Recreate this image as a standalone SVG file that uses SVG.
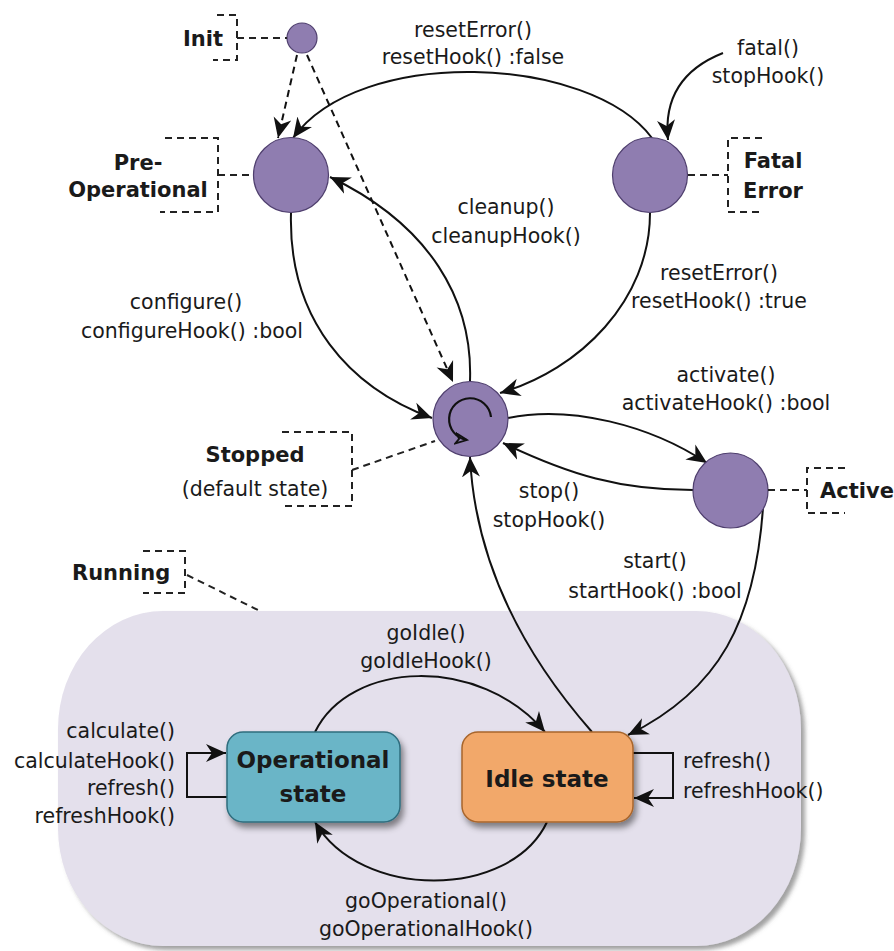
<svg xmlns="http://www.w3.org/2000/svg" width="894" height="951" viewBox="0 0 894 951">
  <defs>
    <style>
      .lbl { font-family: "DejaVu Sans", "Liberation Sans", sans-serif; font-size: 20.5px; fill: #1a1a1a; }
      .bold { font-family: "DejaVu Sans", "Liberation Sans", sans-serif; font-size: 21px; font-weight: bold; fill: #1a1a1a; }
      .boxt { font-family: "DejaVu Sans", "Liberation Sans", sans-serif; font-size: 23px; font-weight: bold; fill: #1a1a1a; }
      .mid { text-anchor: middle; }
      .end { text-anchor: end; }
      .state { fill: #8f7db0; stroke: #4f3f6e; stroke-width: 1.2; }
      .edge { fill: none; stroke: #111; stroke-width: 2; marker-end: url(#arrow); }
      .dashed { stroke-dasharray: 7 5; }
      .note { fill: none; stroke: #222; stroke-width: 2; stroke-dasharray: 7 5; }
    </style>
    <marker id="arrow" markerUnits="userSpaceOnUse" markerWidth="24" markerHeight="22" refX="20" refY="10" orient="auto">
      <path d="M0,1 L20,10 L0,19 L6,10 z" fill="#111"/>
    </marker>
    <marker id="chev" markerUnits="userSpaceOnUse" markerWidth="16" markerHeight="14" refX="12" refY="6" orient="auto">
      <path d="M1,1 L12,6 L1,11 L4,6 z" fill="none" stroke="#111" stroke-width="1.8"/>
    </marker>
    <filter id="shadow" x="-10%" y="-10%" width="130%" height="140%">
      <feDropShadow dx="3" dy="5" stdDeviation="3" flood-color="#000" flood-opacity="0.45"/>
    </filter>
    <filter id="regionShadow" x="-5%" y="-5%" width="110%" height="115%">
      <feDropShadow dx="4" dy="4" stdDeviation="2" flood-color="#555" flood-opacity="0.55"/>
    </filter>
  </defs>

  <rect width="894" height="951" fill="#ffffff"/>

  <!-- Running super-state -->
  <g id="running">
    <rect x="58" y="611" width="743" height="335" rx="105" ry="118" fill="#e4e0ec" filter="url(#regionShadow)"/>
    <text class="bold" x="72" y="580">Running</text>
    <path class="note" d="M143 551 H185 V593 H143"/>
    <path class="note" d="M187 575 L262 612"/>
  </g>

  <!-- Connectors -->
  <g id="connectors">
    <path class="edge dashed" d="M297 55 L278 138"/>
    <path class="edge dashed" d="M307 55 L453 382"/>
    <path class="edge" d="M652 138 C590 55 360 45 293 138"/>
    <path class="edge" d="M723 53 C680 70 664 100 668 140"/>
    <path class="edge" d="M291 213 C288 320 350 388 432 418"/>
    <path class="edge" d="M470 381 C473 300 430 225 330 177"/>
    <path class="edge" d="M650 213 C650 300 580 370 500 393"/>
    <path class="edge" d="M508 418 C570 405 650 425 707 463"/>
    <path class="edge" d="M693 490 C620 490 570 475 503 443"/>
    <path class="edge" d="M763 508 C755 620 720 690 628 735"/>
    <path class="edge" d="M592 732 C520 650 475 560 470 457"/>
    <path class="edge" d="M315 732 C350 660 480 655 545 732"/>
    <path class="edge" d="M547 822 C510 900 360 900 315 822"/>
    <path class="edge" d="M227 797 H187 V753 H226"/>
    <path class="edge" d="M633 753 H673 V798 H634"/>
  </g>

  <!-- Transition labels -->
  <g id="labels">
    <text class="lbl mid" x="473" y="37">resetError()</text>
    <text class="lbl mid" x="473" y="64">resetHook() :false</text>
    <text class="lbl mid" x="768" y="55">fatal()</text>
    <text class="lbl mid" x="768" y="83">stopHook()</text>
    <text class="lbl mid" x="506" y="214">cleanup()</text>
    <text class="lbl mid" x="506" y="243">cleanupHook()</text>
    <text class="lbl mid" x="186" y="309">configure()</text>
    <text class="lbl mid" x="192" y="338">configureHook() :bool</text>
    <text class="lbl mid" x="719" y="280">resetError()</text>
    <text class="lbl mid" x="719" y="308">resetHook() :true</text>
    <text class="lbl mid" x="726" y="382">activate()</text>
    <text class="lbl mid" x="726" y="410">activateHook() :bool</text>
    <text class="lbl mid" x="549" y="498">stop()</text>
    <text class="lbl mid" x="549" y="527">stopHook()</text>
    <text class="lbl mid" x="655" y="568">start()</text>
    <text class="lbl mid" x="655" y="598">startHook() :bool</text>
    <text class="lbl mid" x="426" y="640">goIdle()</text>
    <text class="lbl mid" x="426" y="668">goIdleHook()</text>
    <text class="lbl mid" x="426" y="908">goOperational()</text>
    <text class="lbl mid" x="426" y="936">goOperationalHook()</text>
    <text class="lbl end" x="175" y="738">calculate()</text>
    <text class="lbl end" x="175" y="768">calculateHook()</text>
    <text class="lbl end" x="175" y="795">refresh()</text>
    <text class="lbl end" x="175" y="823">refreshHook()</text>
    <text class="lbl" x="683" y="768">refresh()</text>
    <text class="lbl" x="683" y="798">refreshHook()</text>
  </g>

  <!-- States -->
  <g id="init">
    <circle class="state" cx="302" cy="38" r="15"/>
    <text class="bold end" x="223" y="46">Init</text>
    <path class="note" d="M217 15 H237 V60 H213"/>
    <path class="note" d="M237 38 H287"/>
  </g>

  <g id="preoperational">
    <circle class="state" cx="291" cy="175" r="37.5"/>
    <text class="bold mid" x="138" y="170">Pre-</text>
    <text class="bold mid" x="138" y="197">Operational</text>
    <path class="note" d="M165 138 H218 V212 H160"/>
    <path class="note" d="M218 175 H253"/>
  </g>

  <g id="fatalerror">
    <circle class="state" cx="650" cy="175" r="37.5"/>
    <text class="bold mid" x="773" y="168">Fatal</text>
    <text class="bold mid" x="773" y="198">Error</text>
    <path class="note" d="M762 138 H728 V212 H762"/>
    <path class="note" d="M688 175 H728"/>
  </g>

  <g id="stopped">
    <circle class="state" cx="470.5" cy="419" r="37.5"/>
    <path d="M491 417 A21 21 0 1 0 467 440" fill="none" stroke="#111" stroke-width="2.2" marker-end="url(#chev)"/>
    <text class="bold mid" x="255" y="462">Stopped</text>
    <text class="lbl mid" x="255" y="496">(default state)</text>
    <path class="note" d="M282 432 H352 V506 H282"/>
    <path class="note" d="M352 470 L435 441"/>
  </g>

  <g id="active">
    <circle class="state" cx="730.5" cy="490.5" r="37.5"/>
    <text class="bold" x="820" y="498">Active</text>
    <path class="note" d="M845 468 H807 V513 H845"/>
    <path class="note" d="M768 490 H807"/>
  </g>

  <g id="operational">
    <rect x="227" y="732" width="173" height="90" rx="16" fill="#6bb5c7" stroke="#2f6d7e" stroke-width="1.5" filter="url(#shadow)"/>
    <text class="boxt mid" x="313" y="768">Operational</text>
    <text class="boxt mid" x="313" y="802">state</text>
  </g>

  <g id="idle">
    <rect x="462" y="732" width="171" height="90" rx="16" fill="#f2a86a" stroke="#a8652c" stroke-width="1.5" filter="url(#shadow)"/>
    <text class="boxt mid" x="547" y="787">Idle state</text>
  </g>
</svg>
